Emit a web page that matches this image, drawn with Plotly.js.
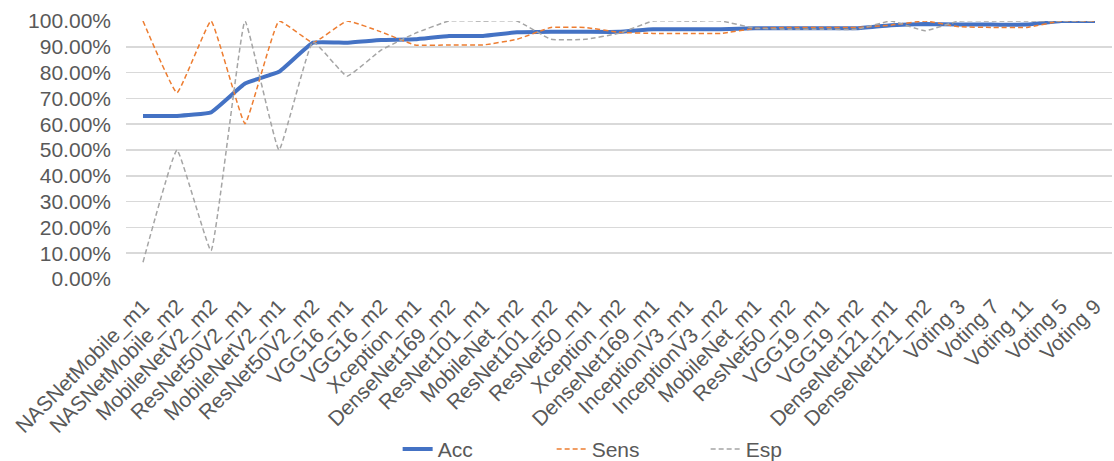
<!DOCTYPE html>
<html>
<head>
<meta charset="utf-8">
<script src="https://cdn.plot.ly/plotly-3.0.1.min.js"></script>
<style>html,body{margin:0;padding:0;background:#fff;}#chart{width:1114px;height:461px;}</style>
</head>
<body>
<div id="chart"></div>
<script>
const categories = ["NASNetMobile_m1","NASNetMobile_m2","MobileNetV2_m2","ResNet50V2_m1","MobileNetV2_m1","ResNet50V2_m2","VGG16_m1","VGG16_m2","Xception_m1","DenseNet169_m2","ResNet101_m1","MobileNet_m2","ResNet101_m2","ResNet50_m1","Xception_m2","DenseNet169_m1","InceptionV3_m1","InceptionV3_m2","MobileNet_m1","ResNet50_m2","VGG19_m1","VGG19_m2","DenseNet121_m1","DenseNet121_m2","Voting 3","Voting 7","Voting 11","Voting 5","Voting 9"];
const acc  = [0.632,0.632,0.646,0.758,0.803,0.916,0.916,0.926,0.929,0.942,0.942,0.956,0.958,0.958,0.958,0.968,0.968,0.968,0.972,0.972,0.972,0.972,0.984,0.988,0.986,0.986,0.986,1.0,1.0];
const sens = [1.0,0.722,1.0,0.602,1.0,0.916,1.0,0.958,0.907,0.907,0.907,0.929,0.975,0.975,0.956,0.952,0.952,0.952,0.971,0.975,0.975,0.975,0.984,1.0,0.978,0.975,0.975,1.0,1.0];
const esp  = [0.065,0.50,0.11,1.0,0.50,0.92,0.786,0.887,0.952,1.0,1.0,1.0,0.929,0.929,0.952,1.0,1.0,1.0,0.972,0.968,0.968,0.968,1.0,0.962,1.0,1.0,1.0,1.0,1.0];
const seriesNames = ["Acc","Sens","Esp"];

const font = {family: "Liberation Sans, Arial, sans-serif", color: "#595959"};
const traces = [
  {x: categories, y: acc, name: seriesNames[0], type: "scatter", mode: "lines",
   line: {color: "#4472C4", width: 4, shape: "spline", smoothing: 0.3}},
  {x: categories, y: sens, name: seriesNames[1], type: "scatter", mode: "lines",
   line: {color: "#ED7D31", width: 1.5, dash: "5px,3px", shape: "spline", smoothing: 0.3}},
  {x: categories, y: esp, name: seriesNames[2], type: "scatter", mode: "lines",
   line: {color: "#A5A5A5", width: 1.5, dash: "5px,3px", shape: "spline", smoothing: 0.3}}
];
const layout = {
  width: 1114, height: 461,
  margin: {l: 126, r: 2, t: 21, b: 182, autoexpand: false},
  paper_bgcolor: "#fff", plot_bgcolor: "#fff",
  font: Object.assign({size: 21}, font),
  showlegend: true,
  legend: {orientation: "h", x: 0.2755, xanchor: "left", y: -0.66, yanchor: "middle",
           entrywidth: 109, entrywidthmode: "pixels", itemwidth: 30,
           font: Object.assign({size: 21}, font), tracegroupgap: 0},
  xaxis: {type: "category", tickangle: -45, automargin: false, showgrid: false,
          showline: false, ticks: "", zeroline: false, ticklabelstandoff: 10,
          tickfont: Object.assign({size: 21}, font), range: [-0.5, 28.5]},
  yaxis: {range: [0, 1], dtick: 0.1, tickformat: ".2%", automargin: false,
          gridcolor: "#D9D9D9", gridwidth: 1.5, zeroline: false, showline: false,
          ticks: "", ticklabelstandoff: 14, tickfont: Object.assign({size: 21}, font)},
  hovermode: false
};
Plotly.newPlot("chart", traces, layout, {staticPlot: true, displayModeBar: false});
</script>
</body>
</html>
